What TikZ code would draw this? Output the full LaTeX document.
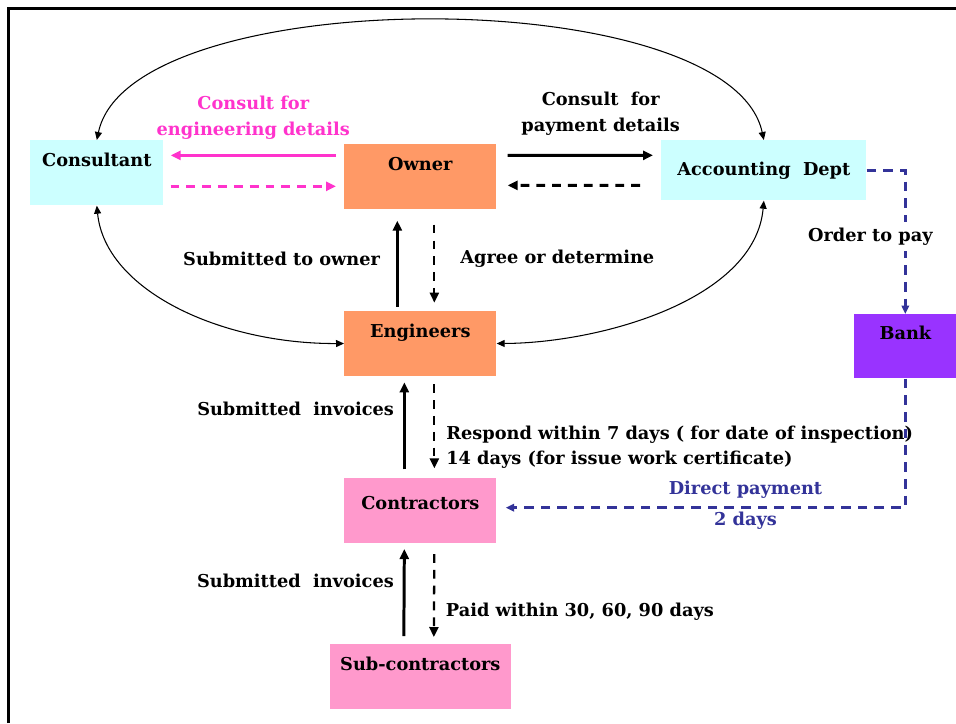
\documentclass[tikz,border=0pt]{standalone}
\usepackage{fontspec}
\setmainfont{DejaVu Serif}
\usepackage{tikz}
\usetikzlibrary{
  arrows.meta,
  positioning,
  calc
}
\usepackage{xcolor}
\definecolor{lightCyan}{rgb}{0.8,1,1}
\definecolor{paleOrange}{rgb}{1,0.6,0.4}
\definecolor{palePink}{rgb}{1,0.6,0.8}
\definecolor{bankViolet}{rgb}{0.6,0.2,1}
\definecolor{hotPink}{rgb}{1,0.2,0.8}
\definecolor{navyBlue}{rgb}{0.2,0.2,0.6}
\tikzset{
  party/.style={
    rectangle,
    inner xsep = 0pt,
    inner ysep = 0pt,
    text height = 0.52cm,
    text depth = 0.78cm
  },
  flow/.style={
    line width = 1.7pt,
    ->
  },
  reply/.style={
    line width = 1.3pt,
    dash pattern = on 5pt off 4pt,
    ->
  },
  swing/.style={
    line width = 0.6pt,
    >={Triangle[length=1.6mm, width=1.4mm]},
    <->
  },
  payline/.style={
    navyBlue,
    line width = 1.4pt,
    dash pattern = on 5.5pt off 4pt,
    >={Triangle[length=1.7mm, width=1.5mm]},
    ->
  }
}

\begin{document}
\begin{tikzpicture}[
      x=0.02cm, y=-0.02cm,
      >={Triangle[length=2mm, width=1.8mm]},
      every node/.style={
        font=\bfseries\fontsize{10.1}{14.5}\selectfont
      },
      node distance=2.02cm
      ]
      \useasboundingbox (0,0) rectangle (956,723);
      \draw[line width=1.6pt] (8.5,723) -- (8.5,8.5) -- (956,8.5);

      \node[party, fill=paleOrange, minimum width=3.04cm, anchor=north west] (owner) at (344,144) {Owner};
      \node[party, fill=paleOrange, minimum width=3.04cm, below=of owner] (engineers) {Engineers};
      \node[party, fill=palePink, minimum width=3.04cm, below=of engineers, text height=0.63cm, text depth=0.67cm] (contractors) {Contractors};
      \node[party, fill=palePink, minimum width=3.62cm, below=of contractors] (subcon) {Sub-contractors};
      \node[party, fill=lightCyan, minimum width=2.66cm, anchor=north west] (consultant) at (30,140) {Consultant};
      \node[party, fill=lightCyan, minimum width=4.1cm, anchor=north west, text height=0.71cm, text depth=0.49cm] (accounting) at (661,140) {Accounting\ \ Dept};
      \node[party, fill=bankViolet, minimum width=2.04cm, anchor=north west, text height=0.51cm, text depth=0.77cm] (bank) at (854,314) {Bank};

      \draw[flow, hotPink] ($(owner.west)+(-8,-21.5)$) -- node[above=0.18cm, align=center] {Consult for\\engineering details} ($(consultant.east)+(7,-17.5)$);
      \draw[reply, hotPink, line width=1.7pt] ($(consultant.east)+(7,13.5)$) -- ($(owner.west)+(-8,9.5)$);

      \draw[flow] ($(owner.east)+(11,-21.5)$) -- node[pos=0.64, above=0.26cm, align=center] {Consult\ \ for\\payment details} ($(accounting.west)+(-8,-15)$);
      \draw[reply, line width=1.7pt] ($(accounting.west)+(-21,15)$) -- ($(owner.east)+(11,8.5)$);

      \draw[flow] ($(engineers.north)+(-23,-4)$) -- node[pos=0.56, left=0.2cm] {Submitted to owner} ($(owner.south)+(-23,11)$);
      \draw[reply] ($(owner.south)+(14,15)$) -- node[pos=0.44, right=0.38cm] {Agree or determine} ($(engineers.north)+(14,-8)$);

      \draw[flow] ($(contractors.north)+(-16,-8)$) -- node[pos=0.69, left=0.06cm] {Submitted\ \ invoices} ($(engineers.south)+(-16,6)$);
      \draw[reply] ($(engineers.south)+(14,8)$) -- node[pos=0.75, right=0.1cm, align=left] {Respond within 7 days ( for date of inspection)\\14 days (for issue work certificate)} ($(contractors.north)+(14,-9)$);

      \draw[flow] ($(subcon.north)+(-16.5,-8)$) -- node[pos=0.63, left=0.06cm] {Submitted\ \ invoices} ($(contractors.south)+(-16,6)$);
      \draw[reply] ($(contractors.south)+(14,11)$) -- node[pos=0.7, right=0.1cm] {Paid within 30, 60, 90 days} ($(subcon.north)+(13.5,-7)$);

      \draw[payline] (accounting.east) -| node[pos=0.73, fill=white, xshift=-0.7cm, text=black] {Order to pay} (bank.north);
      \draw[payline] (bank.south) |- node[pos=0.7, above=0.05cm] {Direct payment} node[pos=0.7, below=-0.05cm] {2 days} ($(contractors.east)+(9,-2.5)$);

      \draw[swing] (consultant.north) .. controls (130,-19) and (730,-19) .. (accounting.north);
      \draw[swing] (consultant.south) .. controls (105,290) and (220,344) .. (engineers.west);
      \draw[swing] (engineers.east) .. controls (600,343) and (755,300) .. (accounting.south);
    \end{tikzpicture}
\end{document}
